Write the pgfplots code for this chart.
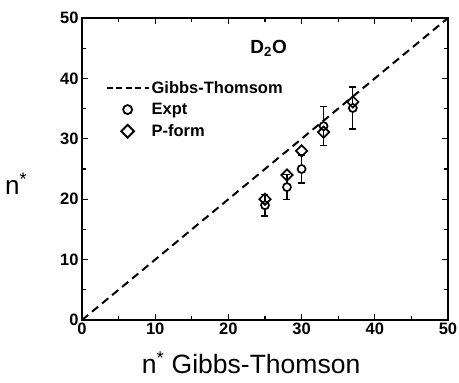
\documentclass[border=0pt]{standalone}
\usepackage{pgfplots}
\pgfplotsset{compat=1.18}
\usepackage{fontspec}
\setmainfont{Liberation Sans}
\begin{document}
\begin{tikzpicture}
\path[use as bounding box] (-82pt,-63pt) rectangle (377pt,320pt);
\begin{axis}[
  at={(0pt,0pt)}, anchor=south west,
  scale only axis, width=366pt, height=302pt,
  xmin=0, xmax=50, ymin=0, ymax=50,
  xtick={0,10,...,50}, ytick={0,10,...,50},
  minor tick num=1,
  tick align=inside, major tick length=6pt, minor tick length=4pt,
  axis line style={line width=1.6pt},
  every tick/.style={line width=1.3pt, black},
  /pgf/number format/assume math mode=true,
  tick label style={font=\fontsize{16.5}{16.5}\selectfont\bfseries},
  xticklabel style={yshift=1pt},
  xlabel={n\textsuperscript{*} Gibbs-Thomson}, ylabel={n\textsuperscript{*}},
  every axis x label/.style={at={(axis description cs:0.462,-0.142)}, anchor=center, font=\fontsize{26.5}{26.5}\selectfont},
  every axis y label/.style={at={(axis description cs:-0.18,0.45)}, anchor=center, font=\fontsize{26}{26}\selectfont},
  legend image code/.code={\draw[mark repeat=2,mark phase=2,#1] plot coordinates {(0pt,0pt) (21pt,0pt) (42pt,0pt)};},
  legend style={at={(axis cs:3.2,39.9)}, anchor=north west, draw=none, fill=none,
    font=\fontsize{16.5}{16.5}\selectfont\bfseries, row sep=4.5pt, inner sep=0pt,
    /tikz/every even column/.append style={column sep=3pt}},
  legend cell align=left,
]
\addplot[black, line width=2pt, dash pattern=on 8pt off 5pt, forget plot] coordinates {(0,0) (50,50)};
\addplot[only marks, mark=*, mark size=4pt, mark options={fill=white, draw=black, line width=1.7pt}, forget plot,
  error bars/.cd, y dir=both, y explicit,
  error bar style={line width=1.3pt, black},
  error mark options={rotate=90, mark size=3.5pt, line width=1.3pt, black}]
  coordinates {
    (25,19.0) +- (0,1.8)
    (28,22.0) +- (0,2.1)
    (30,25.0) +- (0,2.3)
    (33,32.1) +- (0,3.2)
    (37,35.1) +- (0,3.5)
  };
\addplot[only marks, mark=square, mark size=4pt, mark options={rotate=45, draw=black, line width=1.7pt}, forget plot]
  coordinates {
    (25,20.0)
    (28,24.0)
    (30,28.0)
    (33,31.1)
    (37,36.1)
  };
\addlegendimage{black, line width=2pt, dash pattern=on 6pt off 3.5pt}
\addlegendentry{Gibbs-Thomsom}
\addlegendimage{only marks, mark=o, mark size=4.5pt, mark options={line width=1.8pt, black}}
\addlegendentry{Expt}
\addlegendimage{only marks, mark=square, mark size=4.5pt, mark options={rotate=45, line width=1.8pt, black}}
\addlegendentry{P-form}
\node[font=\fontsize{19}{19}\selectfont\bfseries] at (axis cs:25.5,45.0) {D\textsubscript{2}O};
\end{axis}
\end{tikzpicture}
\end{document}
